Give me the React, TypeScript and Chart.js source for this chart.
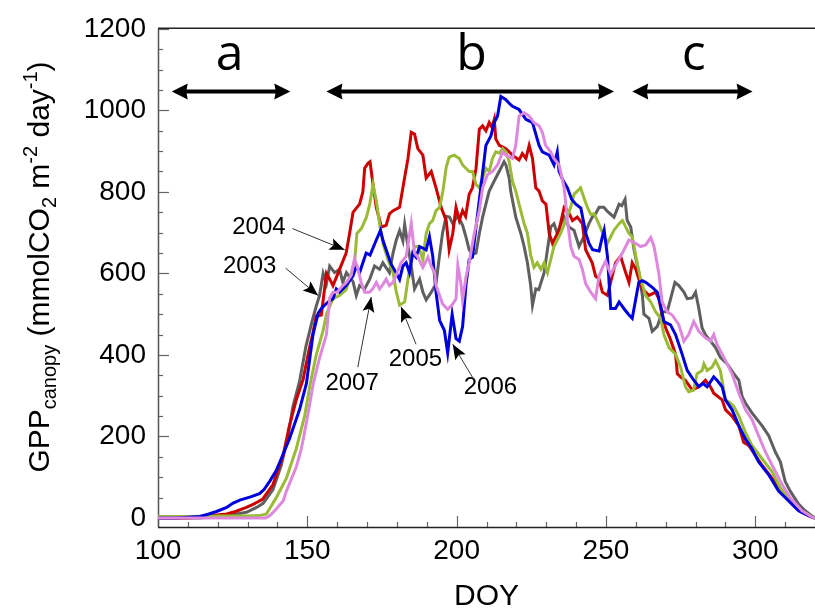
import React, { useEffect, useRef } from 'react';
import { Chart, registerables } from 'chart.js';

Chart.register(...registerables);

// ---------- DATA ----------
const doy2003 = [100,114,120,125,129.6,133,135.2,138.5,141.3,143.5,145.2,147.4,149.5,151.5,153,154.1,155.3,156.4,157.5,159.1,160.8,161.9,163.1,165.3,166.4,167.5,169.2,170.9,172.5,174.2,175.3,177.5,178.7,179.8,180.9,182,182.6,183.7,184.8,185.9,187.6,188.7,189.8,191.5,193.1,194.2,195.3,196.5,197.6,198.7,200.4,202,203.1,204.2,205.3,206.5,207.6,208.7,209.8,210.9,212,213.1,214.8,215.9,216.5,217.6,218.1,219.8,221.5,222.6,223.7,224.8,225.4,226.5,227.5,229.3,230.4,231.5,232.6,233.7,234.8,236,237.6,239.3,241,242.6,244.3,245.4,246.5,247.7,249.3,250.5,252.7,254.4,255.3,256.4,257.1,258.3,259.4,261,262.2,262.7,264.4,265.5,267.2,268.8,270.5,273.1,274.4,276.1,277.2,278.9,280,281.1,282.2,283.3,285,286.7,288.3,290.6,292.8,294.5,295.6,296.7,298.9,300.6,302.3,304.5,306.7,308.4,310,311.7,314.5,316.7,319.5,320];
const gpp2003 = [0,0,4,8,14,26,36,70,130,200,274,335,420,480,520,546,600,575,618,602,610,578,602,580,546,570,562,586,618,610,626,602,650,682,705,680,720,666,618,562,586,554,535,554,575,640,700,740,738,722,742,718,690,658,646,650,698,738,770,802,818,834,858,874,866,834,802,738,698,666,626,570,522,562,560,602,658,714,722,698,720,738,714,706,666,690,722,738,746,762,762,752,738,770,766,782,730,714,658,602,546,500,490,458,470,506,506,578,570,554,538,540,554,514,466,450,434,418,394,378,354,338,298,282,258,242,226,202,162,138,90,66,34,18,2,0];

const doy2004 = [100,110,114,118,123,126,129.6,132,135,138.5,141.9,144,146.3,148.6,150.5,151.9,153,154.7,156.4,157.5,158.6,160.8,163,164.2,165.3,167.5,168.6,169.2,170.3,171,172,173.1,174.8,176.4,177.5,178.7,180.9,182,183.7,184.8,185.9,187,188.7,189.8,191.5,193.1,194.8,196.5,197.5,198.7,199.8,200.9,202,203,204.2,205.3,206.5,207.6,208.7,209.8,210.9,211.8,212.6,213.1,214.3,216.5,218.7,220.9,222,223.2,224.3,225.4,226.5,227.6,228.7,229.9,231,232.1,234.3,236,237.2,238.8,240.4,242.1,243.2,245.4,246.5,247.7,248.8,250.5,252.1,253.2,254.9,256.6,257.7,258.8,260,261,262.2,264.4,266.6,267.7,268.8,270,271.5,273.3,273.9,275,276.6,278.9,281.1,283.3,285,286.1,288.9,290,292.2,294.5,296.1,297.8,300,302.2,305.6,309,312.3,315.6,319,320];
const gpp2004 = [0,0,2,6,10,16,26,34,46,82,154,226,290,340,410,455,495,498,600,586,570,610,650,700,750,770,800,858,870,874,818,762,714,718,746,754,762,810,882,946,942,906,890,834,850,810,762,730,658,698,762,730,754,740,794,810,858,954,962,950,970,958,978,930,914,906,890,878,894,882,914,882,810,802,778,770,698,674,706,762,754,730,738,722,658,626,594,586,554,546,594,626,642,602,578,626,610,586,562,546,554,538,498,466,440,402,354,346,338,314,322,338,322,306,290,266,250,226,186,178,154,130,98,66,34,14,2,0];

const doy2005 = [100,110,120,130,134,136.3,139.6,143,146.3,149.1,151,153,155.3,156.4,158.6,160.8,163,164.7,165.9,166.6,168.1,169.8,170.9,172,173.1,174.2,175.3,177,178.7,179.8,180.9,182.6,183.7,184.8,185.9,187.2,188.7,189.8,190.9,192,193.1,194.3,195.4,196.5,197.5,199.2,200.9,202,203.1,204.2,205.3,206.5,207.6,208.7,209.8,210.9,212,213.1,214.3,215.4,216.5,217.6,218.7,219.8,220.9,222.6,223.7,224.8,225.9,227,228.2,229.3,230.4,231.5,232.6,233.7,234.8,236.5,238.2,239.3,240.4,241.5,242.6,243.8,244.9,246,247.1,248.5,250.5,251.6,252.7,254.4,255.5,256.6,257.7,258.8,260,261.6,263.3,265,266.6,268.3,269.4,271.1,273.3,275,276.6,277.7,279.4,280.5,282.2,282.8,283.9,285.5,286.7,288.3,290,291.7,292.8,294.5,296.7,298.9,302.2,305.6,308.4,311.7,315.1,318.4,320];
const gpp2005 = [4,4,5,5,6,10,50,98,170,250,330,400,460,500,538,546,560,600,634,698,710,738,770,818,778,722,674,634,602,554,522,530,586,634,666,666,634,698,722,730,754,762,802,860,885,890,882,866,858,850,850,818,810,834,858,850,882,898,895,906,898,874,826,802,770,722,698,645,615,626,610,626,602,634,666,682,698,730,762,794,802,810,786,762,745,746,730,706,674,690,706,722,730,714,698,690,642,586,546,530,506,490,450,418,402,370,322,310,314,354,362,378,362,370,386,362,290,282,274,250,210,178,146,114,74,42,18,6,2];

const doy2006 = [100,106,110,114,117,119.6,123,125,127.4,131,134,135.5,137.4,139.5,141.3,144,147.4,149.7,151.9,153.6,154.7,155.8,157,158.6,159.7,160.8,163,165.3,166.4,167.5,169.7,171,173.1,174.5,175.3,176.4,178.1,179.7,180.9,182,183.1,184.2,185.3,186.4,187.6,189.8,190.9,192,193.1,194.3,195.9,197,198.5,199.8,200.9,202,203.1,204.2,205.3,206.5,208.1,209.8,211.5,212.6,213.7,214.8,216.5,217.5,218.7,220.9,223.2,225.4,227.6,228.7,231,232.6,233.7,234.3,235.5,237.1,238.5,239.9,241.6,243.2,244.3,245.5,247.7,248.8,249.4,250.5,251.6,253.2,254.4,256,257.5,258.8,261,262.2,263.3,265.5,267.2,268.3,269.4,271.6,273.3,275.5,277.2,279.4,281.1,282.5,283.9,286.1,287.2,288.9,290,292.2,294.5,296.7,298.9,301.1,304.5,307.8,311.2,314.5,317.8,320];
const gpp2006 = [0,0,2,4,10,16,26,36,44,52,60,70,90,115,146,194,266,330,450,502,514,522,530,538,562,554,570,594,618,602,650,645,682,706,682,658,622,602,585,618,626,602,650,640,666,658,690,642,554,485,460,405,500,440,434,470,570,634,640,714,810,914,938,970,986,1034,1026,1018,1010,1002,978,970,914,898,890,866,898,850,830,810,782,770,760,700,674,658,655,690,706,642,514,514,530,514,500,490,578,582,578,566,554,522,482,474,450,402,362,338,322,330,322,346,338,322,290,266,226,194,170,138,106,66,42,18,6,0];

const doy2007 = [100,120,136,137.5,139.6,141.9,143,146.3,148,149.7,152,154,156.4,157.5,158.6,160,161.4,163.1,164.7,165.8,166.9,168,169.2,170.8,171.9,173.1,174.2,175.5,176.4,177.5,178.7,180,181.4,183.1,184.8,185.9,187,188.7,190.4,191.5,192.6,193.1,194.3,195.3,197,198.7,199.8,200.4,201.4,202,203.1,204.2,205.9,207.6,208.7,210.3,212,213.7,215.4,216.5,218.7,219.8,220.9,222.6,224.3,225.9,227.6,228.7,229.8,231.5,232.6,234.3,236,237.1,238.2,239.3,241,242.1,243.2,244.9,246.5,247.7,248.8,249.9,251.6,253.2,255.5,257.7,259.9,261.6,263.3,265,266.1,267.7,268.8,270.5,272.2,274.4,276.1,277.7,279.4,281.1,283.3,285,286.1,287.2,288.9,290.6,292.2,294.5,296.7,298.9,301.1,303.4,305.6,309,311.7,315.6,319,320];
const gpp2007 = [0,0,0,6,22,42,66,125,170,234,330,390,450,540,554,554,566,578,595,636,612,578,554,554,562,578,562,575,586,570,578,600,626,642,722,650,640,615,640,618,602,570,546,525,512,525,538,620,578,534,590,626,698,754,810,842,850,866,898,890,882,914,986,994,986,970,962,946,914,898,882,866,810,730,666,642,634,610,575,554,538,594,614,630,598,620,650,682,674,666,670,688,666,600,530,506,498,474,434,450,482,458,442,434,450,426,402,378,354,306,266,242,202,162,130,82,50,18,2,0];

const seriesNames = ['2003', '2004', '2005', '2006', '2007'];
const seriesDoy = [doy2003, doy2004, doy2005, doy2006, doy2007];
const seriesGpp = [gpp2003, gpp2004, gpp2005, gpp2006, gpp2007];
const seriesColors = ['#5f5f5f', '#cc0000', '#9abb35', '#0000dd', '#dd88dd'];
const seriesOrder = [4, 3, 2, 1, 0];

const xTickValues = [100, 150, 200, 250, 300];
const yTickValues = [0, 200, 400, 600, 800, 1000, 1200];

// Period annotations (a, b, c)
const periodLabels = ['a', 'b', 'c'];
const periodLabelDoy = [124, 205, 279.4];
const periodStartDoy = [104.6, 156.4, 258.8];
const periodEndDoy = [144.3, 252.7, 299.1];
const periodArrowGpp = 1046;
const periodLabelGpp = 1098;

// Year annotations
const yearLabels = ['2004', '2003', '2007', '2005', '2006'];
const yearLabelDoy = [133.8, 130.7, 165.0, 186.2, 211.3];
const yearLabelGpp = [714, 618, 330, 390, 320];
const yearArrowFromDoy = [145.0, 142.7, 166.9, 186.4, 205.9];
const yearArrowFromGpp = [710, 613, 370, 426, 338];
const yearArrowToDoy = [162.5, 153.6, 171.4, 181.4, 198.7];
const yearArrowToGpp = [658, 546, 542, 518, 426];

const FONT = "'Liberation Sans', Arial, Helvetica, sans-serif";

function drawHead(ctx: CanvasRenderingContext2D, fx: number, fy: number, tx: number, ty: number, len: number, half: number, notch: number) {
  const ang = Math.atan2(ty - fy, tx - fx);
  const c = Math.cos(ang), s = Math.sin(ang);
  ctx.beginPath();
  ctx.moveTo(tx, ty);
  ctx.lineTo(tx - len * c + half * s, ty - len * s - half * c);
  ctx.lineTo(tx - (len - notch) * c, ty - (len - notch) * s);
  ctx.lineTo(tx - len * c - half * s, ty - len * s + half * c);
  ctx.closePath();
  ctx.fill();
}

const axesPlugin = {
  id: 'customAxes',
  beforeDatasetsDraw(chart: any) {
    const { ctx, chartArea, scales } = chart;
    const x = scales.x, y = scales.y;
    ctx.save();
    // ticks
    ctx.strokeStyle = '#666';
    ctx.lineWidth = 1.2;
    for (let v = 100; v <= 320; v += 10) {
      const px = Math.round(x.getPixelForValue(v)) + 0.5;
      const len = v % 50 === 0 ? 11 : 5;
      ctx.beginPath();
      ctx.moveTo(px, chartArea.bottom);
      ctx.lineTo(px, chartArea.bottom - len);
      ctx.stroke();
    }
    for (let v = 0; v <= 1200; v += 50) {
      const py = Math.round(y.getPixelForValue(v)) + 0.5;
      const len = v % 200 === 0 ? 11 : 5;
      ctx.beginPath();
      ctx.moveTo(chartArea.left, py);
      ctx.lineTo(chartArea.left + len, py);
      ctx.stroke();
    }
    // axis lines
    ctx.lineWidth = 1.5;
    ctx.strokeStyle = '#555';
    ctx.beginPath();
    ctx.moveTo(chartArea.left + 0.5, chartArea.top);
    ctx.lineTo(chartArea.left + 0.5, chartArea.bottom);
    ctx.stroke();
    ctx.strokeStyle = '#222';
    ctx.beginPath();
    ctx.moveTo(chartArea.left, chartArea.bottom + 0.5);
    ctx.lineTo(chartArea.right, chartArea.bottom + 0.5);
    ctx.stroke();
    ctx.beginPath();
    ctx.moveTo(chartArea.left, chartArea.top - 0.5);
    ctx.lineTo(chartArea.right, chartArea.top - 0.5);
    ctx.stroke();
    ctx.restore();
  },
  afterDraw(chart: any) {
    const { ctx, chartArea, scales } = chart;
    const x = scales.x, y = scales.y;
    ctx.save();

    // Y title with sub/superscripts
    const segs = [
      { t: 'GPP', size: 30, shift: 0 },
      { t: 'canopy', size: 20, shift: 7 },
      { t: ' (mmolCO', size: 30, shift: 0 },
      { t: '2', size: 20, shift: 7 },
      { t: ' m', size: 30, shift: 0 },
      { t: '-2', size: 20, shift: -12 },
      { t: ' day', size: 30, shift: 0 },
      { t: '-1', size: 20, shift: -12 },
      { t: ')', size: 30, shift: 0 },
    ];
    let total = 0;
    for (const sg of segs) {
      ctx.font = `${sg.size}px ${FONT}`;
      total += ctx.measureText(sg.t).width;
    }
    const centerY = 267;
    ctx.translate(49, centerY + total / 2);
    ctx.rotate(-Math.PI / 2);
    ctx.fillStyle = '#000';
    ctx.textBaseline = 'alphabetic';
    ctx.textAlign = 'left';
    let cur = 0;
    for (const sg of segs) {
      ctx.font = `${sg.size}px ${FONT}`;
      ctx.fillText(sg.t, cur, sg.shift);
      cur += ctx.measureText(sg.t).width;
    }
    ctx.setTransform(1, 0, 0, 1, 0, 0);
    ctx.restore();
    ctx.save();

    // Period arrows
    ctx.fillStyle = '#000';
    ctx.strokeStyle = '#000';
    for (let i = 0; i < periodLabels.length; i++) {
      const x0 = x.getPixelForValue(periodStartDoy[i]);
      const x1 = x.getPixelForValue(periodEndDoy[i]);
      const py = y.getPixelForValue(periodArrowGpp);
      ctx.lineWidth = 4;
      ctx.beginPath();
      ctx.moveTo(x0 + 10, py);
      ctx.lineTo(x1 - 10, py);
      ctx.stroke();
      drawHead(ctx, x1, py, x0, py, 16, 8, 1.5);
      drawHead(ctx, x0, py, x1, py, 16, 8, 1.5);
      ctx.font = `50px 'Open Sans', 'DejaVu Sans', sans-serif`;
      ctx.textAlign = 'center';
      ctx.textBaseline = 'alphabetic';
      ctx.fillText(periodLabels[i], x.getPixelForValue(periodLabelDoy[i]), y.getPixelForValue(periodLabelGpp));
    }

    // Year labels with arrows
    for (let i = 0; i < yearLabels.length; i++) {
      ctx.font = `24px ${FONT}`;
      ctx.textAlign = 'center';
      ctx.textBaseline = 'middle';
      ctx.fillStyle = '#000';
      ctx.fillText(yearLabels[i], x.getPixelForValue(yearLabelDoy[i]), y.getPixelForValue(yearLabelGpp[i]));
      const fx = x.getPixelForValue(yearArrowFromDoy[i]);
      const fy = y.getPixelForValue(yearArrowFromGpp[i]);
      const tx = x.getPixelForValue(yearArrowToDoy[i]);
      const ty = y.getPixelForValue(yearArrowToGpp[i]);
      ctx.strokeStyle = '#333';
      ctx.lineWidth = 1;
      ctx.beginPath();
      ctx.moveTo(fx, fy);
      ctx.lineTo(tx, ty);
      ctx.stroke();
      ctx.fillStyle = '#000';
      drawHead(ctx, fx, fy, tx, ty, 15, 6, 3);
    }
    ctx.restore();
  },
};

export default function App() {
  const canvasRef = useRef<HTMLCanvasElement | null>(null);

  useEffect(() => {
    const canvas = canvasRef.current;
    if (!canvas) return;
    const datasets = seriesNames.map((name, i) => ({
      label: name,
      data: seriesDoy[i].map((d, j) => ({ x: d, y: seriesGpp[i][j] })),
      borderColor: seriesColors[i],
      backgroundColor: seriesColors[i],
      borderWidth: 3,
      pointRadius: 0,
      tension: 0,
      fill: false,
      order: seriesOrder[i],
    }));
    const chart = new Chart(canvas, {
      type: 'line',
      data: { datasets },
      options: {
        animation: false,
        responsive: false,
        maintainAspectRatio: false,
        layout: { padding: { top: 17, right: 0, bottom: 0, left: 0 } },
        plugins: { legend: { display: false }, tooltip: { enabled: false }, title: { display: false } },
        scales: {
          x: {
            type: 'linear',
            min: 100,
            max: 320,
            afterBuildTicks: (s: any) => { s.ticks = xTickValues.map((v) => ({ value: v })); },
            afterFit: (s: any) => { s.height = 85; },
            grid: { display: false, drawTicks: false },
            border: { display: false },
            ticks: {
              autoSkip: false,
              maxRotation: 0,
              padding: 7,
              color: '#000',
              font: { family: FONT, size: 28 },
              callback: (v: any) => String(v),
            },
            title: {
              display: true,
              text: 'DOY',
              color: '#000',
              font: { family: FONT, size: 30, lineHeight: 1 },
              padding: { top: 0, bottom: 0 },
            },
          },
          y: {
            type: 'linear',
            min: -22,
            max: 1200,
            afterBuildTicks: (s: any) => { s.ticks = yTickValues.map((v) => ({ value: v })); },
            afterFit: (s: any) => { s.width = 158; },
            grid: { display: false, drawTicks: false },
            border: { display: false },
            ticks: {
              autoSkip: false,
              padding: 12,
              color: '#000',
              font: { family: FONT, size: 28 },
              callback: (v: any) => String(v),
            },
          },
        },
      },
      plugins: [axesPlugin],
    });
    return () => chart.destroy();
  }, []);

  return (
    <div style={{ position: 'absolute', left: 0, top: 0, width: 815, height: 612, background: '#fff' }}>
      <canvas ref={canvasRef} width={815} height={612} style={{ display: 'block', width: 815, height: 612 }} />
    </div>
  );
}
